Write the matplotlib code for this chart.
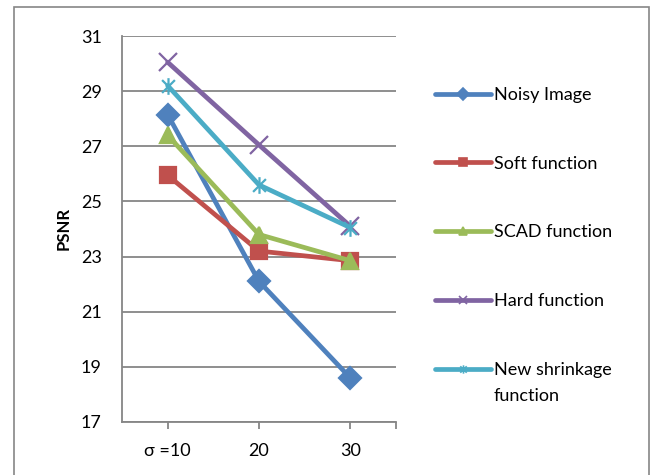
import matplotlib
matplotlib.use('Agg')
import matplotlib.pyplot as plt
from matplotlib.lines import Line2D
from matplotlib.path import Path
from matplotlib.patches import Rectangle

plt.rcParams['font.family'] = ['Lato', 'DejaVu Sans']

# data
categories = ['σ =10', '20', '30']
series_names = ['Noisy Image', 'Soft function', 'SCAD function', 'Hard function',
                'New shrinkage']
noisy = [28.15, 22.1, 18.6]
soft = [25.95, 23.2, 22.85]
scad = [27.4, 23.8, 22.85]
hard = [30.05, 27.05, 24.1]
new_shrink = [29.2, 25.6, 24.05]
yticks = [17, 19, 21, 23, 25, 27, 29, 31]

colors = ['#4F81BD', '#C0504D', '#9BBB59', '#8064A2', '#4BACC6']

# excel style star marker: an x with a vertical bar
star = Path([(-1, -1), (1, 1), (-1, 1), (1, -1), (0, -1.3), (0, 1.3)],
            [Path.MOVETO, Path.LINETO, Path.MOVETO, Path.LINETO, Path.MOVETO, Path.LINETO])

markers = ['D', 's', '^', 'x', star]
msizes = [11, 12, 12, 13, 12]

fig = plt.figure(figsize=(6.54, 4.75), dpi=100)
ax = fig.add_axes([0.1865, 0.1116, 0.419, 0.8126])

x = list(range(len(categories)))
all_series = [noisy, soft, scad, hard, new_shrink]
handles = []
for vals, c, m, ms, name in zip(all_series, colors, markers, msizes, series_names):
    ax.plot(x, vals, color=c, lw=3.4, marker=m, ms=ms, mfc=c, mec=c, mew=1.6,
            solid_capstyle='round', zorder=3)
    handles.append(Line2D([], [], color=c, lw=3.4, marker=m, ms=6, mfc=c, mec=c,
                          mew=1.2, solid_capstyle='round'))

ax.set_xlim(-0.5, 2.5)
ax.set_ylim(17, 31)
ax.set_yticks(yticks)
ax.set_xticks(x)
ax.set_xticklabels(categories)
ax.set_xticks([2.5], minor=True)
ax.grid(axis='y', color='#868686', lw=1.3, zorder=0)
for s in ['top', 'right']:
    ax.spines[s].set_visible(False)
for s in ['left', 'bottom']:
    ax.spines[s].set_color('#868686')
    ax.spines[s].set_linewidth(1.3)
ax.tick_params(axis='y', length=0, pad=14.5, labelsize=13)
ax.tick_params(axis='x', which='both', length=5, width=1.3, color='#868686',
               pad=10, labelsize=13)
ax.set_ylabel('PSNR', fontweight='bold', fontsize=12, labelpad=7)

leg = ax.legend(handles, series_names, loc='upper left', bbox_to_anchor=(1.142, 0.868),
                frameon=False, fontsize=13, handlelength=3.1, handletextpad=0.15,
                labelspacing=2.92, borderaxespad=0, borderpad=0)

# second line of the last legend label, set under the first like the original
fig.canvas.draw()
last = leg.get_texts()[-1].get_window_extent()
fig.text(last.x0, last.y0 - 26, 'function', fontsize=13, va='bottom', ha='left',
         transform=None)

fig.patches.append(Rectangle((14 / 654, -0.02), 635 / 654, 1.0053,
                             transform=fig.transFigure, fill=False,
                             edgecolor='#868686', lw=1.2))

fig.savefig('out.png', dpi=100)
